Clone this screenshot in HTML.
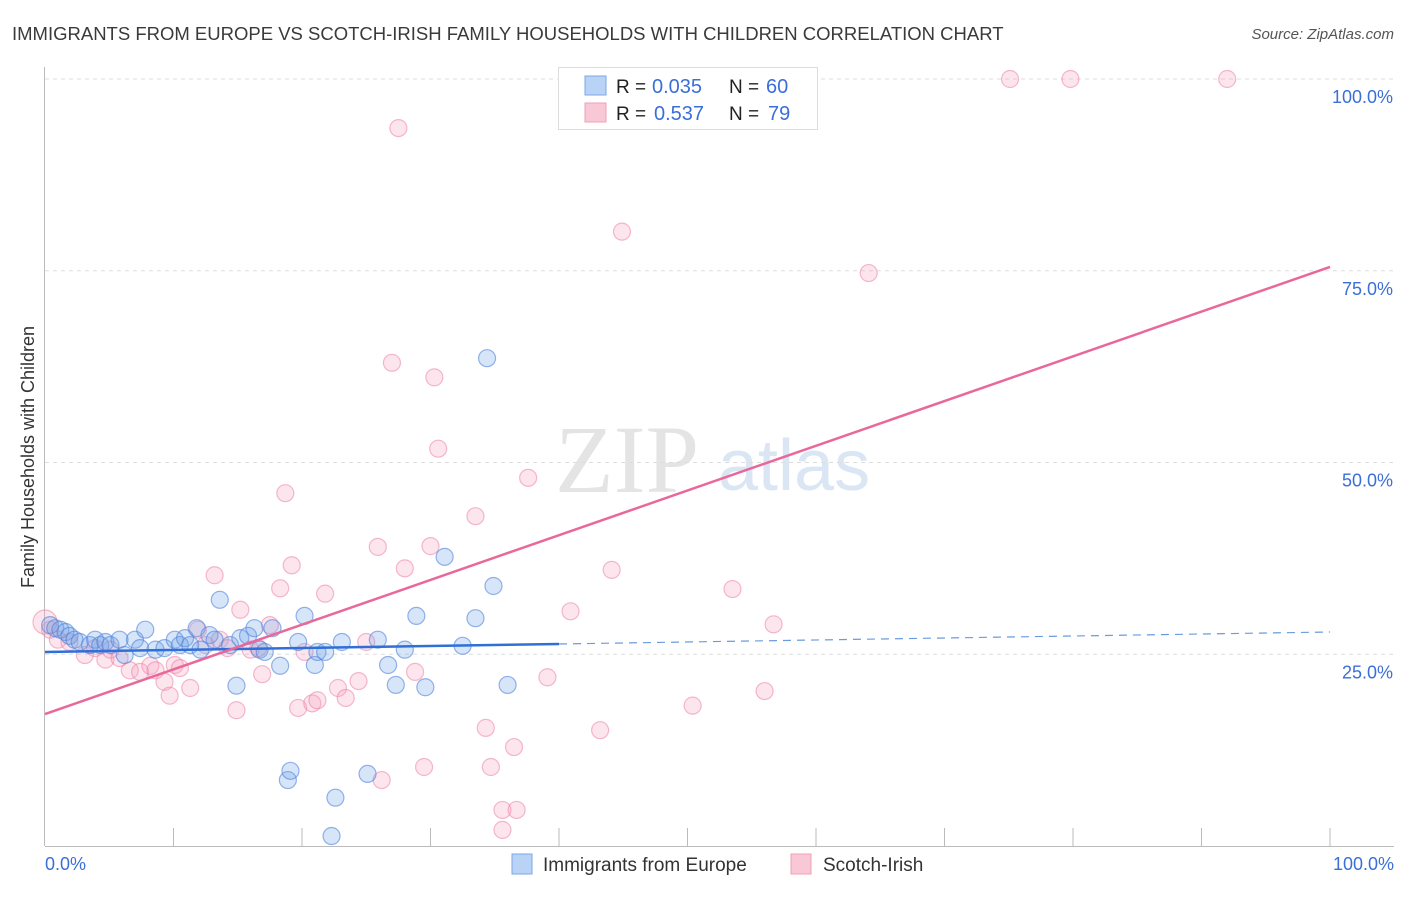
<!DOCTYPE html>
<html><head><meta charset="utf-8"><style>
body{margin:0;background:#fff;width:1406px;height:892px;overflow:hidden;font-family:"Liberation Sans",sans-serif}
svg text{font-family:"Liberation Sans",sans-serif}
</style></head><body>
<svg id="chart" width="1406" height="892">
<text x="12" y="40" font-size="18.5" fill="#3a3a3a">IMMIGRANTS FROM EUROPE VS SCOTCH-IRISH FAMILY HOUSEHOLDS WITH CHILDREN CORRELATION CHART</text>
<text x="1394" y="39" font-size="15" fill="#555" font-style="italic" text-anchor="end">Source: ZipAtlas.com</text>
<text x="0" y="0" transform="translate(34,457) rotate(-90)" font-size="18" fill="#333" text-anchor="middle">Family Households with Children</text>
<text x="555" y="492" font-size="96" fill="#e4e4e4" style="font-family:'Liberation Serif',serif">ZIP</text>
<text x="718" y="490" font-size="72" fill="#dbe6f4">atlas</text>
<g id="grid"></g><g id="axes"></g><g id="pts"></g><g id="lines"></g>
<g>
<rect x="558.5" y="67.5" width="259" height="62" fill="#fff" stroke="#ddd"/>
<rect x="585" y="76" width="21" height="19" fill="#b8d3f5" stroke="#7ba7e6"/>
<rect x="585" y="103" width="21" height="19" fill="#f9c8d6" stroke="#f0a0b8"/>
<text x="616" y="93" font-size="19" fill="#222">R =</text>
<text x="652" y="93" font-size="20" fill="#3a6fd8">0.035</text>
<text x="729" y="93" font-size="19" fill="#222">N =</text>
<text x="766" y="93" font-size="20" fill="#3a6fd8">60</text>
<text x="616" y="120" font-size="19" fill="#222">R =</text>
<text x="654" y="120" font-size="20" fill="#3a6fd8">0.537</text>
<text x="729" y="120" font-size="19" fill="#222">N =</text>
<text x="768" y="120" font-size="20" fill="#3a6fd8">79</text>
</g>
<g>
<rect x="512" y="854" width="20" height="20" fill="#b8d3f5" stroke="#7ba7e6"/>
<text x="543" y="871" font-size="19" fill="#333">Immigrants from Europe</text>
<rect x="791" y="854" width="20" height="20" fill="#f9c8d6" stroke="#f0a0b8"/>
<text x="823" y="871" font-size="19" fill="#333">Scotch-Irish</text>
</g>
</svg>
<script>
const yTicks=[25,50,75,100];
const yTickLabels=["25.0%","50.0%","75.0%","100.0%"];
const xTickLabels=["0.0%","100.0%"];
const blueX=[0.4,0.8,1.2,1.6,1.9,2.3,2.7,3.5,3.9,4.3,4.7,5.1,5.8,6.2,7.0,7.4,7.8,8.6,9.3,10.1,10.5,10.9,11.3,11.8,12.1,12.8,13.2,13.6,14.4,14.9,15.2,15.8,16.3,16.7,17.1,17.7,18.3,18.9,19.1,19.7,20.2,21.0,21.2,21.8,22.6,23.1,22.3,25.1,25.9,26.7,27.3,28.0,28.9,29.6,31.1,32.5,33.5,34.9,34.4,36.0];
const blueY=[28.8,28.4,28.2,27.9,27.4,26.9,26.6,26.2,26.9,26.2,26.6,26.2,26.9,24.9,26.9,25.8,28.2,25.6,25.8,26.9,26.2,27.1,26.2,28.4,25.6,27.5,26.9,32.1,26.2,20.9,27.1,27.4,28.4,25.6,25.3,28.4,23.5,8.6,9.8,26.6,30.0,23.6,25.3,25.3,6.3,26.6,1.3,9.4,26.9,23.6,21.0,25.6,30.0,20.7,37.7,26.1,29.7,33.9,63.6,21.0];
const pinkX=[0,0.4,1.0,1.9,3.1,3.9,4.7,5.1,5.8,6.6,7.4,8.2,8.6,9.3,9.7,10.1,10.5,11.3,11.9,12.5,13.2,13.6,14.2,14.9,15.2,16.0,16.6,16.9,17.5,18.3,18.7,19.2,19.7,20.2,20.8,21.2,21.8,22.8,23.4,24.4,25.0,25.9,26.2,27.0,27.5,28.0,28.8,29.5,30.0,30.3,30.6,33.5,34.3,34.7,35.6,35.6,36.5,36.7,37.6,39.1,40.9,43.2,44.1,44.9,50.4,53.5,56.0,56.7,64.1,75.1,79.8,92.0];
const pinkY=[29.2,28.2,26.9,26.6,24.9,25.8,24.3,25.6,24.5,22.9,22.7,23.5,22.9,21.4,19.6,23.6,23.2,20.6,28.2,26.2,35.3,26.9,25.8,17.7,30.8,25.6,25.8,22.4,28.8,33.6,46.0,36.6,18.0,25.3,18.6,19.0,32.9,20.6,19.3,21.5,26.6,39.0,8.6,63.0,93.6,36.2,22.7,10.3,39.1,61.1,51.8,43.0,15.4,10.3,4.7,2.1,12.9,4.7,48.0,22.0,30.6,15.1,36.0,80.1,18.3,33.5,20.2,28.9,74.7,100,100,100];
const blueLine=[25.3,27.9];
const pinkLine=[17.2,75.5];
const NS='http://www.w3.org/2000/svg';
const X0=45,X1=1330,Y0=846,Y100=79;
const sx=v=>X0+(X1-X0)*v/100;
const sy=v=>Y0-(Y0-Y100)*v/100;
function mk(tag,attrs,parent){const e=document.createElementNS(NS,tag);for(const k in attrs)e.setAttribute(k,attrs[k]);document.getElementById(parent).appendChild(e);return e;}
yTicks.forEach((t,i)=>{
 const l=mk('line',{x1:45,x2:1394,y1:sy(t),y2:sy(t),stroke:'#ddd','stroke-dasharray':'4,4'},'grid');
 
 
 const tx=mk('text',{x:1393,y:sy(t)+24,'font-size':18,fill:'#3a6fd8','text-anchor':'end'},'grid');
 tx.textContent=yTickLabels[i];
 
 
});
const ax=mk('line',{x1:45,x2:1394,y1:846.5,y2:846.5,stroke:'#bbb'},'axes');


const ay=mk('line',{x1:44.5,x2:44.5,y1:67,y2:846,stroke:'#bbb'},'axes');


for(let i=1;i<=10;i++){
 const t=mk('line',{x1:sx(i*10),x2:sx(i*10),y1:828,y2:846,stroke:'#bbb'},'axes');
 
 
}
[[0,'start',45],[100,'end',1394]].forEach((d,i)=>{
 const tx=mk('text',{x:d[2],y:870,'font-size':18,fill:'#3a6fd8','text-anchor':d[1]},'axes');
 tx.textContent=xTickLabels[i];
 
 
});
pinkX.forEach((x,i)=>{
 const c=mk('circle',{cx:sx(x),cy:sy(pinkY[i]),r:i==0?12:8.5,fill:'rgba(244,160,190,0.28)',stroke:'rgba(236,130,165,0.55)','stroke-width':1.2},'pts');
 
 
});
blueX.forEach((x,i)=>{
 const c=mk('circle',{cx:sx(x),cy:sy(blueY[i]),r:8.5,fill:'rgba(110,160,230,0.28)',stroke:'rgba(80,130,220,0.6)','stroke-width':1.2},'pts');
 
 
});
const by=v=>blueLine[0]+(blueLine[1]-blueLine[0])*v/100;
const b1=mk('line',{x1:sx(0),y1:sy(by(0)),x2:sx(40),y2:sy(by(40)),stroke:'#2f6fd6','stroke-width':2.5},'lines');


const b2=mk('line',{x1:sx(40),y1:sy(by(40)),x2:sx(100),y2:sy(by(100)),stroke:'#6a9be0','stroke-width':1.2,'stroke-dasharray':'8,6'},'lines');


const p=mk('line',{x1:sx(0),y1:sy(pinkLine[0]),x2:sx(100),y2:sy(pinkLine[1]),stroke:'#e8689a','stroke-width':2.5},'lines');


</script>
</body></html>
